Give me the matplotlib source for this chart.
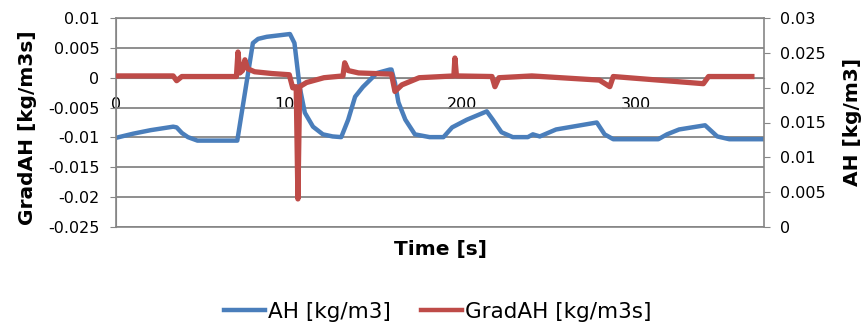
import numpy as np
import matplotlib
matplotlib.use('Agg')
from matplotlib import pyplot as plt
from matplotlib.lines import Line2D

# AH (right axis)
ah_t = [0, 10, 20, 33, 35, 38, 41.5, 47, 70, 79, 82, 87, 100.4, 103, 106, 109,
        113.7, 119.4, 125, 130, 134, 138, 142.5, 150.6, 158, 159, 161, 163,
        167, 172.5, 181, 189, 194, 202.5, 214, 217.5, 222.5, 229, 237.7,
        240.6, 244.6, 254, 277.5, 282, 287, 313, 318, 325, 340, 347, 354, 374]
ah_v = [0.0128, 0.0134, 0.0139, 0.0144, 0.0143, 0.0135, 0.0129, 0.0124, 0.0124,
        0.0264, 0.0270, 0.0273, 0.0277, 0.0264, 0.0201, 0.0164,
        0.0144, 0.0133, 0.0130, 0.0129, 0.0154, 0.0187, 0.0201, 0.0221,
        0.0226, 0.0226, 0.0207, 0.0179,
        0.0154, 0.0133, 0.0129, 0.0129, 0.0143, 0.0154, 0.0166, 0.0154,
        0.0136, 0.0129, 0.0129,
        0.0133, 0.0130, 0.0140, 0.0150, 0.0133, 0.0126, 0.0126, 0.0133,
        0.0140, 0.0146, 0.0130, 0.0126, 0.0126]

# GradAH (left axis)
g_t = [0, 33, 35, 38, 69.5, 70.4, 71.5, 73, 74.4, 76, 80, 90, 100, 102, 104,
       105, 106, 110, 120, 131, 132, 134, 140, 159, 161, 165, 175, 195,
       195.6, 196.5, 217, 218.7, 221, 240, 279, 285, 287, 339, 342, 367]
g_v = [0.0003, 0.0003, -0.0005, 0.0002, 0.0002, 0.0043, 0.0008, 0.0012,
       0.0030, 0.0015, 0.0010, 0.0007, 0.0005, -0.0017, -0.0015,
       -0.0203, -0.0015, -0.0008, 0.0, 0.0003, 0.0025, 0.0012, 0.0008,
       0.0006, -0.0023, -0.0012, 0.0, 0.0003,
       0.0033, 0.0003, 0.0002, -0.0015, 0.0, 0.0003, -0.0004, -0.0015,
       0.0002, -0.0010, 0.0002, 0.0002]

left_ticks = [-0.025, -0.02, -0.015, -0.01, -0.005, 0, 0.005, 0.01]
right_ticks = [0, 0.005, 0.01, 0.015, 0.02, 0.025, 0.03]
x_ticks = [0, 100, 200, 300]

blue = '#4a7ebb'
red = '#be4b48'
gray = '#868686'

fig = plt.figure(figsize=(8.64, 3.27), dpi=100)
ax = fig.add_axes([116/864, 1-227/327, 648/864, 209/327])
ax2 = ax.twinx()
ax.yaxis.grid(True, color=gray, linewidth=1.3)

ax.set_xlim(0, 374)
ax.set_ylim(-0.025, 0.01)
ax2.set_ylim(0, 0.03)

ax.set_yticks(left_ticks)
ax.set_yticklabels(['{:g}'.format(v) for v in left_ticks])
ax2.set_yticks(right_ticks)
ax2.set_yticklabels(['{:g}'.format(v) for v in right_ticks])
ax.set_xticks(x_ticks)
ax.set_xticklabels([str(v) for v in x_ticks])

# x axis crosses at GradAH = 0, labels sit just below it
ax.spines['bottom'].set_position(('data', 0))
ax.spines['bottom'].set_color(gray)
ax.spines['right'].set_visible(False)
ax.tick_params(axis='x', length=0, pad=14, labelsize=11.5, colors='#000000')
ax.tick_params(axis='y', length=4, color=gray, pad=8, labelsize=11.5)
ax2.tick_params(axis='y', length=4.5, color=gray, pad=7, labelsize=11.5)

for s in ['left', 'top']:
    ax.spines[s].set_color(gray)
for s in ['left', 'top', 'bottom', 'right']:
    ax2.spines[s].set_color(gray)
    ax2.spines[s].set_linewidth(1.2)

ax2.plot(ah_t, ah_v, color=blue, linewidth=3.2, solid_capstyle='round', zorder=2)
# red series belongs to the left axis but is drawn above the blue one
ax2.plot(g_t, g_v, color=red, linewidth=3.8, transform=ax.transData, zorder=3)

fig.text(28/864, 1-128/327, 'GradAH [kg/m3s]', rotation=90, ha='center', va='center',
         fontsize=14.5, fontweight='bold')
fig.text(853/864, 1-122/327, 'AH [kg/m3]', rotation=90, ha='center', va='center',
         fontsize=14.5, fontweight='bold')
fig.text(440/864, 1-249/327, 'Time [s]', ha='center', va='center',
         fontsize=14.5, fontweight='bold')

handles = [Line2D([], [], color=blue, linewidth=3.2),
           Line2D([], [], color=red, linewidth=3.2)]
fig.legend(handles, ['AH [kg/m3]', 'GradAH [kg/m3s]'], loc='center',
           bbox_to_anchor=(438/864, 1-312/327), ncol=2, frameon=False,
           fontsize=15.5, handlelength=1.9, handletextpad=0.15, columnspacing=1.4)

fig.savefig('out.png', dpi=100)
